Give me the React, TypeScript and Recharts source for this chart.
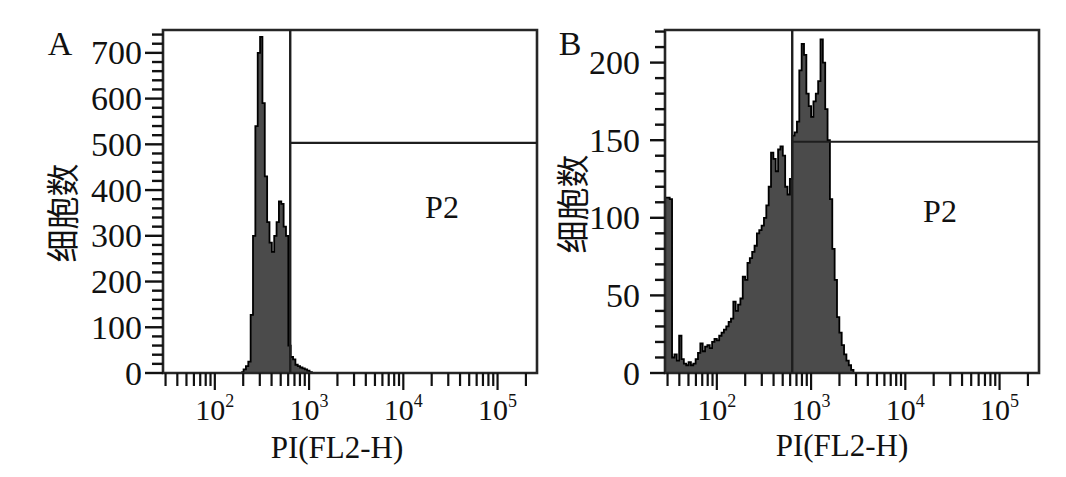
import React from 'react';
import { ComposedChart, Area, XAxis, YAxis, ReferenceLine, ReferenceArea } from 'recharts';

// ---- shared axis settings (x values are log10 of PI fluorescence) ----
const X_DOMAIN: [number, number] = [1.45, 5.4185];
const X_DECADES = [1, 2, 3, 4, 5];
const X_MINOR_MULT = [1, 2, 3, 4, 5, 6, 7, 8, 9];
const X_LABEL_DECADES = [2, 3, 4, 5];
const GATE_LOG = 2.8;
const BIN_LOG = 0.025;

// ---- panel A ----
const A_START_LOG = 2.28;
const A_COUNTS = [
  2, 8, 15, 25, 127, 300, 540, 700, 735, 590,
  430, 330, 285, 265, 300, 330, 375, 370, 320, 300,
  60, 35, 30, 18, 15, 12, 10, 8, 5, 2, 0,
];
const A_Y_MAX = 750;
const A_Y_MAJOR = [0, 100, 200, 300, 400, 500, 600, 700];
const A_Y_MINOR_STEP = 20;
const A_GATE_Y = 503;

// ---- panel B ----
const B_START_LOG = 1.45;
const B_COUNTS = [
  113, 113, 112, 10, 12, 8, 24, 9, 6, 5,
  7, 5, 6, 9, 13, 19, 14, 17, 18, 16,
  20, 22, 21, 24, 26, 28, 30, 33, 35, 46,
  40, 44, 48, 62, 60, 71, 74, 78, 82, 90,
  92, 95, 100, 108, 120, 142, 138, 130, 144, 146,
  140, 120, 115, 125, 153, 155, 162, 195, 212, 205,
  180, 172, 165, 175, 180, 188, 215, 200, 170, 150,
  112, 80, 60, 36, 26, 18, 12, 8, 5, 2, 0,
];
const B_Y_MAX = 221;
const B_Y_MAJOR = [0, 50, 100, 150, 200];
const B_Y_MINOR_STEP = 10;
const B_GATE_Y = 149;

const SERIF = "'Liberation Serif','Times New Roman','Noto Sans CJK SC',serif";
const INK = '#111';

const toRows = (start: number, counts: number[]) =>
  counts.map((c, i) => ({ x: +(start + i * BIN_LOG).toFixed(4), y: c }));

const xTicks: number[] = [];
X_DECADES.forEach((d) =>
  X_MINOR_MULT.forEach((m) => {
    const v = d + Math.log10(m);
    if (v >= X_DOMAIN[0] && v <= X_DOMAIN[1]) xTicks.push(v);
  })
);

const yTicks = (max: number, step: number) => {
  const out: number[] = [];
  for (let v = 0; v <= max; v += step) out.push(v);
  return out;
};

const isMajorX = (v: number) =>
  Math.abs(v - Math.round(v)) < 1e-6 && X_LABEL_DECADES.includes(Math.round(v));

const XTick = (props: any) => {
  const { x, y, payload } = props;
  const v = payload.value as number;
  const major = isMajorX(v);
  return (
    <g>
      <line x1={x} x2={x} y1={y} y2={y + (major ? 17 : 13)} stroke={INK} strokeWidth={2.2} />
      {major && (
        <text x={x} y={y + 47} textAnchor="middle" fontFamily={SERIF} fontSize={30} fill={INK}>
          <tspan>10</tspan>
          <tspan dy={-13} fontSize={18}>{Math.round(v)}</tspan>
        </text>
      )}
    </g>
  );
};

const makeYTick = (majors: number[], majorLen: number, minorLen: number, labelGap: number) => (props: any) => {
  const { x, y, payload } = props;
  const v = payload.value as number;
  const major = majors.includes(v);
  return (
    <g>
      <line x1={x - (major ? majorLen : minorLen)} x2={x} y1={y} y2={y} stroke={INK} strokeWidth={2.4} />
      {major && (
        <text x={x - labelGap} y={y} dy="0.34em" textAnchor="end" fontFamily={SERIF} fontSize={34} fill={INK}>
          {v}
        </text>
      )}
    </g>
  );
};

type PanelProps = {
  rows: { x: number; y: number }[];
  yMax: number;
  yTickList: number[];
  yTick: (p: any) => React.ReactElement;
  gateY: number;
  width: number;
  yAxisWidth: number;
  rightMargin: number;
};

const Panel = ({ rows, yMax, yTickList, yTick, gateY, width, yAxisWidth, rightMargin }: PanelProps) => (
  <ComposedChart
    width={width}
    height={477}
    data={rows}
    margin={{ top: 30, right: rightMargin, bottom: 0, left: 0 }}
  >
    <XAxis
      type="number"
      dataKey="x"
      domain={X_DOMAIN}
      allowDataOverflow
      ticks={xTicks}
      interval={0}
      tick={XTick}
      tickSize={0}
      tickMargin={0}
      tickLine={false}
      axisLine={false}
      height={104}
    />
    <YAxis
      type="number"
      domain={[0, yMax]}
      allowDataOverflow
      ticks={yTickList}
      interval={0}
      tick={yTick}
      tickSize={0}
      tickMargin={0}
      tickLine={false}
      axisLine={false}
      width={yAxisWidth}
    />
    <Area
      type="stepAfter"
      dataKey="y"
      fill="#4b4b4b"
      fillOpacity={1}
      stroke="#000"
      strokeWidth={1.8}
      isAnimationActive={false}
      dot={false}
      activeDot={false}
    />
    <ReferenceLine x={GATE_LOG} stroke="#1e1e1e" strokeWidth={2.4} />
    <ReferenceLine
      segment={[
        { x: GATE_LOG, y: gateY },
        { x: X_DOMAIN[1], y: gateY },
      ]}
      stroke="#1e1e1e"
      strokeWidth={2.2}
    />
    <ReferenceArea
      x1={X_DOMAIN[0]}
      x2={X_DOMAIN[1]}
      y1={0}
      y2={yMax}
      fill="none"
      fillOpacity={0}
      stroke="#262626"
      strokeWidth={2.6}
    />
  </ComposedChart>
);

export default function App() {
  const aRows = toRows(A_START_LOG, A_COUNTS);
  const bRows = toRows(B_START_LOG, B_COUNTS);
  const textStyle = { fontFamily: SERIF, fill: INK } as const;
  return (
    <div style={{ position: 'absolute', left: 0, top: 0, width: 1066, height: 477, background: '#fff' }}>
      <div style={{ position: 'absolute', left: 0, top: 0 }}>
        <Panel
          rows={aRows}
          yMax={A_Y_MAX}
          yTickList={yTicks(740, A_Y_MINOR_STEP)}
          yTick={makeYTick(A_Y_MAJOR, 18, 11, 21)}
          gateY={A_GATE_Y}
          width={540}
          yAxisWidth={163}
          rightMargin={3}
        />
      </div>
      <div style={{ position: 'absolute', left: 540, top: 0 }}>
        <Panel
          rows={bRows}
          yMax={B_Y_MAX}
          yTickList={yTicks(220, B_Y_MINOR_STEP)}
          yTick={makeYTick(B_Y_MAJOR, 15, 10, 25)}
          gateY={B_GATE_Y}
          width={526}
          yAxisWidth={125}
          rightMargin={27}
        />
      </div>
      <svg width={1066} height={477} style={{ position: 'absolute', left: 0, top: 0, pointerEvents: 'none' }}>
        <text x={60} y={55} textAnchor="middle" fontSize={34} {...textStyle}>A</text>
        <text x={570} y={55} textAnchor="middle" fontSize={34} {...textStyle}>B</text>
        <text x={63} y={213} dy="0.35em" textAnchor="middle" fontSize={33} transform="rotate(-90 63 213)" {...textStyle}>细胞数</text>
        <text x={573} y={204} dy="0.35em" textAnchor="middle" fontSize={33} transform="rotate(-90 573 204)" {...textStyle}>细胞数</text>
        <text x={337} y={458} textAnchor="middle" fontSize={31} {...textStyle}>PI(FL2-H)</text>
        <text x={842} y={456} textAnchor="middle" fontSize={31} {...textStyle}>PI(FL2-H)</text>
        <text x={442} y={218} textAnchor="middle" fontSize={32} {...textStyle}>P2</text>
        <text x={940} y={222} textAnchor="middle" fontSize={32} {...textStyle}>P2</text>
      </svg>
    </div>
  );
}
